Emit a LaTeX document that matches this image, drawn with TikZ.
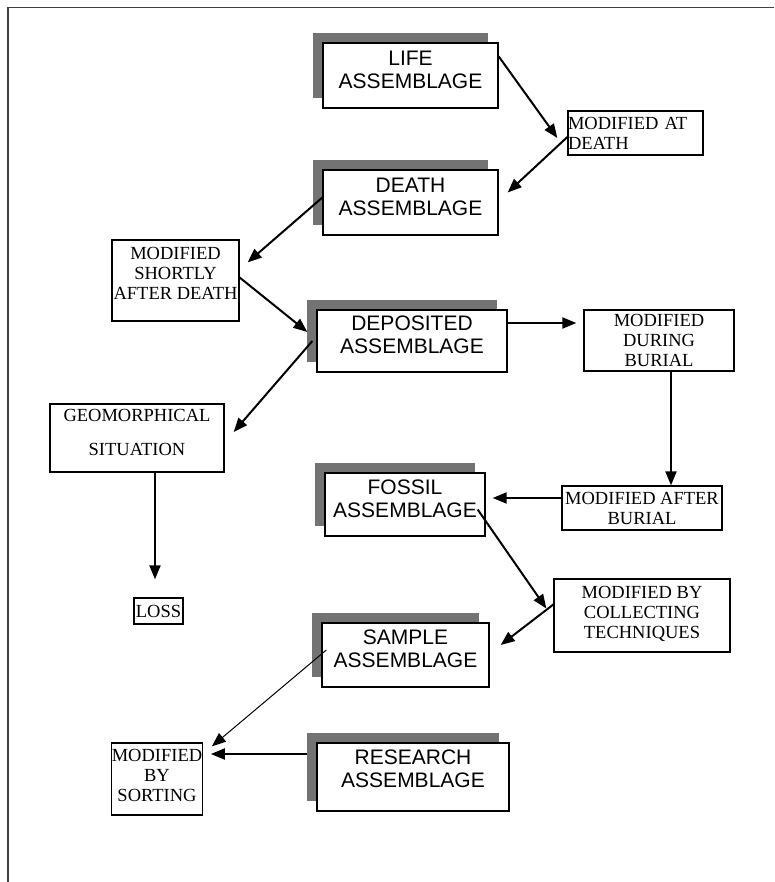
\documentclass[tikz,border=0pt]{standalone}
\usepackage{fontspec}
\setmainfont{Liberation Serif}
\setsansfont{Liberation Sans}
\usetikzlibrary{positioning, arrows.meta, shadows, calc}

\begin{document}
\begin{tikzpicture}[x=1pt, y=-1pt,
    assem/.style={rectangle, draw, line width=1.3pt, fill=white, inner sep=0pt, align=center,
        font=\sffamily\fontsize{21}{23}\selectfont, text depth=12pt,
        drop shadow={shadow xshift=-10pt, shadow yshift=10pt, fill=black!55, opacity=1, draw=none}},
    modbox/.style={rectangle, draw, line width=1.3pt, fill=white, inner sep=0pt, align=center,
        font=\rmfamily\fontsize{18.5}{20}\selectfont},
    arr/.style={-{Triangle[length=14pt, width=11pt]}, line width=2pt}]
    \useasboundingbox (0,0) rectangle (774,882);
    \draw[line width=1.5pt, black!75] (774,7.5) -- (8,7.5) -- (8,882);

    \node[assem, minimum width=175pt, minimum height=65pt] (life) at (410.5,75.5) {LIFE\\ASSEMBLAGE};
    \node[modbox, align=left, text width=135pt, minimum height=44pt] (atdeath) at (635.5,133) {MODIFIED AT\\DEATH};
    \node[assem, minimum width=175pt, minimum height=65pt] (death) at (410.5,202.5) {DEATH\\ASSEMBLAGE};
    \node[modbox, minimum width=127pt, minimum height=81pt, text depth=15pt] (shortly) at (175.5,280.5) {MODIFIED\\SHORTLY\\AFTER DEATH};
    \node[assem, minimum width=190pt, minimum height=62pt] (deposited) at (412,341) {DEPOSITED\\ASSEMBLAGE};
    \node[modbox, minimum width=150pt, minimum height=61pt] (during) at (659,340.5) {MODIFIED\\DURING\\BURIAL};
    \node[modbox, minimum width=174pt, minimum height=68pt, font=\rmfamily\fontsize{18.5}{34}\selectfont, text depth=12pt] (geo) at (137,438) {GEOMORPHICAL\\SITUATION};
    \node[modbox, minimum width=49pt, minimum height=26pt] (loss) at (158.5,611) {LOSS};
    \node[modbox, minimum width=160pt, minimum height=44pt] (after) at (642,508) {MODIFIED AFTER\\BURIAL};
    \node[assem, minimum width=160pt, minimum height=63pt] (fossil) at (405,504.5) {FOSSIL\\ASSEMBLAGE};
    \node[modbox, minimum width=176pt, minimum height=73pt, text depth=7pt] (collect) at (642,615.5) {MODIFIED BY\\COLLECTING\\TECHNIQUES};
    \node[assem, minimum width=167pt, minimum height=64pt] (sample) at (405.5,655) {SAMPLE\\ASSEMBLAGE};
    \node[modbox, minimum width=88pt, minimum height=72pt, text depth=8pt] (sorting) at (157,779) {MODIFIED\\BY\\SORTING};
    \node[assem, minimum width=192pt, minimum height=68pt, text depth=17pt] (research) at (413,777) {RESEARCH\\ASSEMBLAGE};

    \coordinate (geo-out) at ([xshift=18pt]geo.south);
    \coordinate (dep-out) at ([yshift=18pt]deposited.east);
    \coordinate (dur-out) at ([xshift=12pt]during.south);
    \coordinate (aft-out) at ([yshift=10pt]after.west);
    \coordinate (fos-in) at ([xshift=7pt]fossil.east);
    \coordinate (res-out) at ([xshift=-9pt, yshift=23pt]research.west);
    \coordinate (sort-in) at ([xshift=8pt]sorting.east);

    \draw[arr] ([yshift=-14pt]life.north east) -- ([xshift=-10pt, yshift=-5pt]atdeath.west);
    \draw[arr] ([yshift=-4pt]atdeath.west) -- ([xshift=9pt, yshift=10pt]death.east);
    \draw[arr] ([yshift=5pt]death.west) -- ([xshift=8pt, yshift=-23pt]shortly.north east);
    \draw[arr] ([yshift=3pt]shortly.east) -- ([xshift=-9pt, yshift=9pt]deposited.west);
    \draw[arr] ([xshift=-4pt]deposited.west) -- ([xshift=9pt, yshift=6pt]geo.east);
    \draw[arr, shorten >=18pt] (geo-out) -- (geo-out |- loss.north);
    \draw[arr, shorten >=7pt] (dep-out) -- (dep-out -| during.west);
    \draw[arr] (dur-out) -- (dur-out |- after.north);
    \draw[arr] (aft-out) -- (aft-out -| fos-in);
    \draw[arr] ([xshift=-8pt, yshift=-5pt]fossil.east) -- ([xshift=-7pt, yshift=7pt]collect.west);
    \draw[arr] ([yshift=11pt]collect.west) -- ([xshift=11pt, yshift=10pt]sample.east);
    \draw[arr, line width=1pt] ([xshift=5pt, yshift=5pt]sample.west) -- ([xshift=9pt, yshift=-4pt]sorting.north east);
    \draw[arr] (res-out) -- (res-out -| sort-in);
\end{tikzpicture}
\end{document}
